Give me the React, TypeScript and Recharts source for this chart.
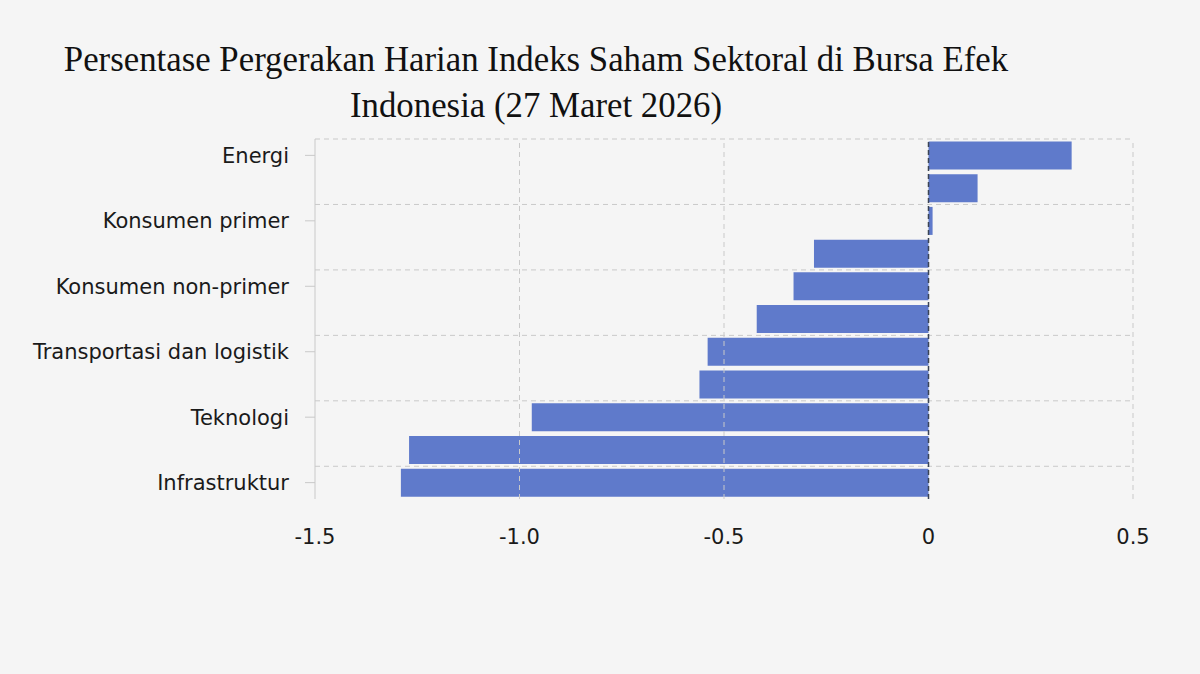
import { BarChart, Bar, XAxis, YAxis, ReferenceLine } from 'recharts';

const sectors = [
  'Energi',
  'Barang baku',
  'Konsumen primer',
  'Kesehatan',
  'Konsumen non-primer',
  'Perindustrian',
  'Transportasi dan logistik',
  'Keuangan',
  'Teknologi',
  'Properti dan real estat',
  'Infrastruktur',
];
const changes = [0.35, 0.12, 0.01, -0.28, -0.33, -0.42, -0.54, -0.56, -0.97, -1.27, -1.29];
const xTicks = [-1.5, -1, -0.5, 0, 0.5];
const xTickLabels = ['-1.5', '-1.0', '-0.5', '0', '0.5'];
const titleLines = ['Persentase Pergerakan Harian Indeks Saham Sektoral di Bursa Efek', 'Indonesia (27 Maret 2026)'];

const data = sectors.map((sector, i) => ({ sector, change: changes[i] }));

const GRID = '#c9c9c9';
const tickFont = { fontFamily: 'DejaVu Sans', fontSize: 21, fill: '#1a1a1a' };

export default function App() {
  return (
    <div style={{ position: 'absolute', left: 0, top: 0, width: 1200, height: 674, background: '#f5f5f5', overflow: 'hidden' }}>
      <div
        style={{
          position: 'absolute', left: 36, top: 37, width: 1000, textAlign: 'center',
          fontFamily: 'Liberation Serif', fontSize: 34.8, lineHeight: '46px', color: '#111',
        }}
      >
        {titleLines.map((t) => <div key={t}>{t}</div>)}
      </div>
      <BarChart
        width={1200}
        height={674}
        data={data}
        layout="vertical"
        margin={{ top: 139, right: 67, bottom: 115, left: 15 }}
        barCategoryGap="7.5%"
        style={{ position: 'absolute', left: 0, top: 0 }}
      >
        <XAxis
          type="number"
          domain={[-1.5, 0.5]}
          ticks={xTicks}
          tickFormatter={(_v: number, i: number) => xTickLabels[i]}
          axisLine={false}
          tickLine={false}
          tickSize={0}
          tickMargin={30}
          height={60}
          tick={tickFont}
          allowDataOverflow
        />
        <YAxis
          type="category"
          dataKey="sector"
          width={300}
          interval={1}
          axisLine={{ stroke: GRID }}
          tickLine={{ stroke: GRID }}
          tickSize={10}
          tickMargin={16}
          tick={tickFont}
        />
        {xTicks.filter((v) => v !== 0 && v !== -1.5).map((v) => (
          <ReferenceLine key={'x' + v} x={v} stroke={GRID} strokeDasharray="5 4" />
        ))}
        {sectors.filter((_, i) => i % 2 === 0).map((s) => (
          <ReferenceLine key={'y' + s} y={s} position="start" stroke={GRID} strokeDasharray="5 4" />
        ))}
        <Bar dataKey="change" fill="#5f7acb" isAnimationActive={false} />
        <ReferenceLine x={0} stroke="#3b4456" strokeWidth={1.5} strokeDasharray="5 3" />
      </BarChart>
    </div>
  );
}
